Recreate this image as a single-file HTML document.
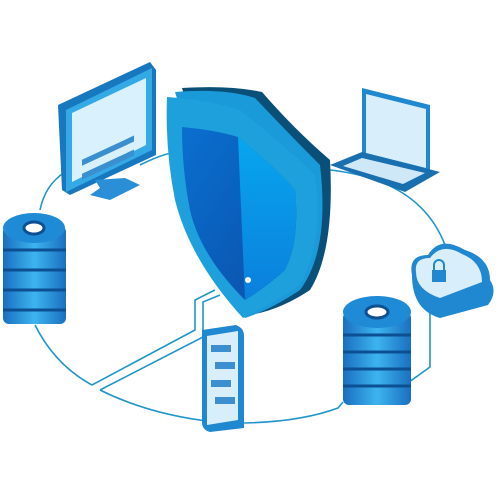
<!DOCTYPE html><html><head><style>body{margin:0;background:#fff}svg{display:block}</style></head><body>
<svg width="499" height="499" viewBox="0 0 499 499" xmlns="http://www.w3.org/2000/svg">
<defs>
<linearGradient id="sf" x1="0" y1="0" x2="1" y2="1"><stop offset="0" stop-color="#0a6fcf"/><stop offset="1" stop-color="#0b4fa8"/></linearGradient>
<linearGradient id="sr" x1="0" y1="0" x2="0" y2="1"><stop offset="0" stop-color="#08a6ef"/><stop offset="1" stop-color="#0a7fdc"/></linearGradient>
<linearGradient id="db" x1="0" y1="0" x2="1" y2="0"><stop offset="0" stop-color="#1a6fc0"/><stop offset=".5" stop-color="#3db4ef"/><stop offset="1" stop-color="#1a6fc0"/></linearGradient>
</defs>
<g fill="none" stroke="#1f95c8" stroke-width="1.6">
<path d="M40 210 Q45 185 65 172"/>
<path d="M140 165 Q160 155 175 152"/>
<path d="M330 170 Q420 180 445 245"/>
<path d="M35 325 Q55 365 92 385 L195 330 L195 300 L215 290"/>
<path d="M100 390 L203 337 L203 302 L220 295"/>
<path d="M100 390 Q150 415 215 422"/>
<path d="M243 423 Q300 422 338 408 L343 402"/>
<path d="M405 385 L430 367 L430 310"/>
</g>
<!-- shield -->
<path d="M182 88 Q230 85 262 92 Q295 130 330 160 Q335 250 310 290 Q280 310 250 315 Z" fill="#0a4f78"/>
<path d="M175 92 Q225 88 255 98 Q290 135 320 165 Q330 250 300 290 Q270 310 245 318 Z" fill="#1a9ad8"/>
<path d="M167 97 Q210 100 240 110 Q290 150 315 175 Q325 240 300 285 Q270 305 243 318 Q190 260 175 200 Q165 150 167 97 Z" fill="#1ea0dc"/>
<path d="M182 127 Q215 130 238 137 Q278 170 295 190 Q300 240 285 270 Q265 288 245 300 Q200 255 190 210 Q182 170 182 127 Z" fill="url(#sf)"/>
<path d="M238 137 Q278 170 295 190 Q300 240 285 270 Q265 288 245 300 L238 137 Z" fill="url(#sr)"/>
<circle cx="248" cy="280" r="3" fill="#fff"/>
<!-- monitor -->
<path d="M58 105 L150 62 L156 70 L156 155 L70 195 L62 190 Z" fill="#1878bf"/>
<path d="M66 110 L152 68 L152 150 L66 192 Z" fill="#35a9e6"/>
<path d="M72 113 L146 78 L146 145 L72 182 Z" fill="#d9f1fc"/>
<g fill="#3b8fd0"><rect x="82" y="138" width="52" height="6" transform="skewY(-25) translate(0 60)"/><rect x="82" y="152" width="52" height="6" transform="skewY(-25) translate(0 60)"/></g>
<path d="M95 180 L100 188 L90 195 L110 200 L140 185 L125 178 Z" fill="#2a8fd6"/>
<!-- laptop -->
<path d="M362 88 L430 105 L430 175 L362 158 Z" fill="#1f88d0"/>
<path d="M366 94 L426 109 L426 168 L366 153 Z" fill="#d8eefa"/>
<path d="M330 165 L362 152 L440 172 L405 192 Z" fill="#1a6fb0"/>
<path d="M343 166 L362 158 L425 173 L403 184 Z" fill="#cfe8f7"/>
<!-- left server -->
<g>
<rect x="3" y="226" width="63" height="98" rx="6" fill="url(#db)"/>
<g stroke="#0c4f92" stroke-width="3"><line x1="3" y1="250" x2="66" y2="250"/><line x1="3" y1="270" x2="66" y2="270"/><line x1="3" y1="290" x2="66" y2="290"/><line x1="3" y1="310" x2="66" y2="310"/></g>
<ellipse cx="34" cy="228" rx="31" ry="15" fill="#1f8ad6"/>
<ellipse cx="34" cy="228" rx="10" ry="6" fill="#fff" stroke="#0c4f92" stroke-width="3"/>
</g>
<!-- right server -->
<g>
<rect x="343" y="312" width="68" height="93" rx="6" fill="url(#db)"/>
<g stroke="#0c4f92" stroke-width="3"><line x1="343" y1="335" x2="411" y2="335"/><line x1="343" y1="352" x2="411" y2="352"/><line x1="343" y1="369" x2="411" y2="369"/><line x1="343" y1="386" x2="411" y2="386"/></g>
<ellipse cx="377" cy="312" rx="34" ry="16" fill="#1f8ad6"/>
<ellipse cx="377" cy="312" rx="11" ry="6" fill="#fff" stroke="#0c4f92" stroke-width="3"/>
</g>
<!-- cloud -->
<path d="M412 275 Q408 255 428 255 Q440 235 465 250 Q490 258 490 280 Q498 292 488 305 L440 318 Q412 310 412 275 Z" fill="#1f88d0"/>
<path d="M416 272 Q414 258 430 258 Q442 242 462 254 Q482 262 482 282 L440 298 Q416 290 416 272 Z" fill="#d8eefa"/>
<rect x="432" y="270" width="14" height="12" fill="#1f88d0"/>
<path d="M434 270 v-5 a5 5 0 0 1 10 0 v5" fill="none" stroke="#1f88d0" stroke-width="2"/>
<rect x="432" y="300" width="12" height="12" fill="#1f88d0"/>
<!-- phone -->
<path d="M202 330 L236 325 Q244 328 244 336 L244 428 L210 432 Q202 430 202 422 Z" fill="#1f88d0"/>
<path d="M207 336 L238 331 L238 420 L207 425 Z" fill="#d8eefa"/>
<g fill="#3b8fd0"><rect x="211" y="345" width="20" height="7"/><rect x="215" y="362" width="20" height="7"/><rect x="211" y="380" width="20" height="7"/><rect x="215" y="397" width="20" height="7"/></g>
</svg>
</body></html>
